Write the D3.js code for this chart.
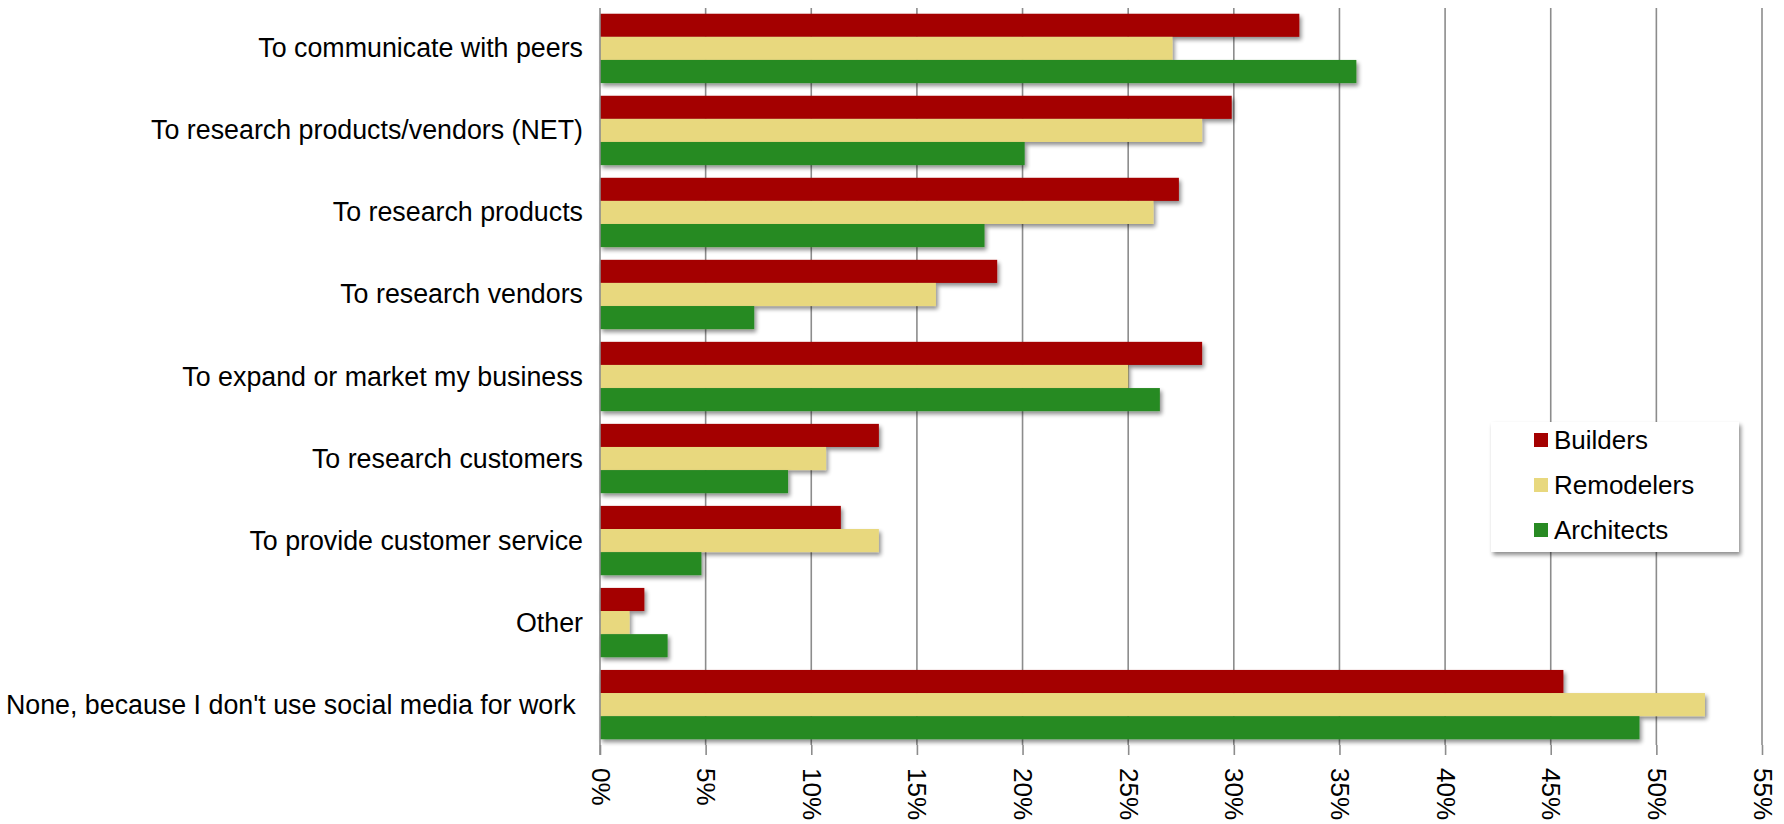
<!DOCTYPE html>
<html>
<head>
<meta charset="utf-8">
<script src="https://cdn.jsdelivr.net/npm/d3@7/dist/d3.min.js"></script>
<style>
  html, body { margin: 0; padding: 0; background: #ffffff; }
  svg { display: block; font-family: "Liberation Sans", Arial, sans-serif; }
  .cat-label { white-space: pre; }
</style>
</head>
<body>
<svg id="chart" width="1784" height="824"></svg>
<script>
// Reasons for using social media at work, share of respondents (%)
const categories = [
  "To communicate with peers",
  "To research products/vendors (NET)",
  "To research products",
  "To research vendors",
  "To expand or market my business",
  "To research customers",
  "To provide customer service",
  "Other",
  "None, because I don't use social media for work "
];
const seriesNames = ["Builders", "Remodelers", "Architects"];
const builders   = [33.1, 29.9, 27.4, 18.8, 28.5, 13.2, 11.4, 2.1, 45.6];
const remodelers = [27.1, 28.5, 26.2, 15.9, 25.0, 10.7, 13.2, 1.4, 52.3];
const architects = [35.8, 20.1, 18.2,  7.3, 26.5,  8.9,  4.8, 3.2, 49.2];
const seriesColors = ["#a40000", "#e8d87e", "#288a23"];
const tickValues = [0, 5, 10, 15, 20, 25, 30, 35, 40, 45, 50, 55];

const seriesValues = [builders, remodelers, architects];
const rows = categories.map((c, i) => ({
  category: c,
  values: seriesNames.map((s, j) => ({ series: s, value: seriesValues[j][i], color: seriesColors[j] }))
}));

const svg = d3.select("#chart");
const plot = { left: 600, right: 1762, top: 8, bottom: 745 };

const x = d3.scaleLinear().domain([0, 55]).range([plot.left, plot.right]);
const y = d3.scaleBand().domain(categories).range([plot.top, plot.bottom])
  .paddingInner(0.155).paddingOuter(0.07);
const ySub = d3.scaleBand().domain(seriesNames).range([0, y.bandwidth()]).padding(0);

// drop shadow used by bars, axis and legend box
const defs = svg.append("defs");
const f = defs.append("filter").attr("id", "shadow")
  .attr("x", "-10%").attr("y", "-30%").attr("width", "130%").attr("height", "190%");
f.append("feGaussianBlur").attr("in", "SourceAlpha").attr("stdDeviation", 2).attr("result", "blur");
f.append("feOffset").attr("in", "blur").attr("dx", 2).attr("dy", 3).attr("result", "off");
f.append("feComponentTransfer").attr("in", "off").attr("result", "shadowA")
  .append("feFuncA").attr("type", "linear").attr("slope", 0.45);
const m = f.append("feMerge");
m.append("feMergeNode").attr("in", "shadowA");
m.append("feMergeNode").attr("in", "SourceGraphic");

// vertical gridlines
svg.append("g").selectAll("line").data(tickValues.slice(1)).join("line")
  .attr("x1", d => x(d)).attr("x2", d => x(d))
  .attr("y1", plot.top).attr("y2", plot.bottom)
  .attr("stroke", "#8c8c8c").attr("stroke-width", 1.6);

// bars
const groups = svg.append("g").selectAll("g").data(rows).join("g")
  .attr("transform", d => `translate(0,${y(d.category)})`);
groups.selectAll("rect").data(d => d.values).join("rect")
  .attr("x", x(0))
  .attr("y", d => ySub(d.series))
  .attr("width", d => x(d.value) - x(0))
  .attr("height", ySub.bandwidth())
  .attr("fill", d => d.color)
  .attr("filter", "url(#shadow)");

// bottom axis with tick marks
const xAxis = d3.axisBottom(x).tickValues(tickValues).tickFormat(d => d + "%")
  .tickSize(10).tickSizeOuter(0);
const gx = svg.append("g").attr("transform", `translate(0,${plot.bottom})`).call(xAxis);
gx.select(".domain").attr("stroke", "#8c8c8c").attr("stroke-width", 2).attr("filter", "url(#shadow)");
gx.selectAll(".tick line").attr("stroke", "#8c8c8c").attr("stroke-width", 1.6);
gx.selectAll(".tick text")
  .attr("font-size", 26).attr("fill", "#000")
  .attr("text-anchor", "start")
  .attr("dominant-baseline", "central")
  .attr("dy", null).attr("y", null).attr("x", null)
  .attr("transform", "translate(0,23) rotate(90)");

// left axis line
svg.append("line")
  .attr("x1", x(0)).attr("x2", x(0)).attr("y1", plot.top).attr("y2", plot.bottom + 10)
  .attr("stroke", "#8c8c8c").attr("stroke-width", 1.6);

// category labels
svg.append("g").selectAll("text").data(categories).join("text")
  .attr("class", "cat-label")
  .attr("x", 583)
  .attr("y", d => y(d) + y.bandwidth() / 2)
  .attr("text-anchor", "end")
  .attr("dominant-baseline", "central")
  .attr("font-size", 26.8)
  .attr("fill", "#000")
  .text(d => d);

// legend
const legend = svg.append("g").attr("transform", "translate(1491,422)");
legend.append("rect").attr("width", 248).attr("height", 130)
  .attr("fill", "#fff").attr("filter", "url(#shadow)");
const items = legend.selectAll("g").data(seriesNames).join("g")
  .attr("transform", (d, i) => `translate(43,${11 + i * 45})`);
items.append("rect").attr("width", 14).attr("height", 14)
  .attr("fill", (d, i) => seriesColors[i]);
items.append("text").attr("x", 20).attr("y", 7)
  .attr("dominant-baseline", "central")
  .attr("font-size", 26).attr("fill", "#000")
  .text(d => d);
</script>
</body>
</html>
